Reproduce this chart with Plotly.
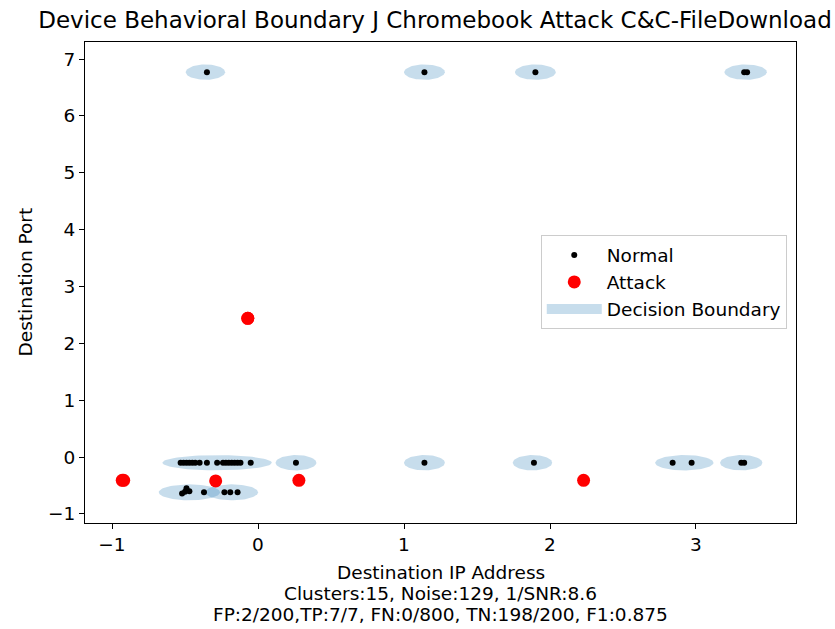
import numpy as np
import plotly.graph_objects as go

# Normal traffic samples (destination IP address, destination port), scaled units
normal_x = [-0.35, 1.14, 1.90, 3.33, 3.35,
            -0.53, -0.51, -0.49, -0.47, -0.45, -0.43, -0.40, -0.35, -0.28,
            -0.24, -0.22, -0.20, -0.18, -0.16, -0.14, -0.12, -0.05, 0.26,
            1.14, 1.89, 2.84, 2.97, 3.31, 3.33,
            -0.52, -0.50, -0.49, -0.47, -0.37, -0.23, -0.19, -0.14]
normal_y = [6.77, 6.77, 6.77, 6.77, 6.77,
            -0.10, -0.10, -0.10, -0.10, -0.10, -0.10, -0.10, -0.10, -0.10,
            -0.10, -0.10, -0.10, -0.10, -0.10, -0.10, -0.10, -0.10, -0.10,
            -0.10, -0.10, -0.10, -0.10, -0.10, -0.10,
            -0.64, -0.61, -0.55, -0.60, -0.62, -0.62, -0.62, -0.62]

# Attack samples
attack_x = [-0.93, -0.92, -0.29, 0.28, 2.23, -0.07, -0.07]
attack_y = [-0.41, -0.41, -0.42, -0.41, -0.41, 2.44, 2.44]

# Cluster decision boundaries: centre and full width/height of each ellipse
ell_cx = [-0.36, 1.14, 1.90, 3.34, -0.28, 0.26, 1.14, 1.88, 2.92, 3.31, -0.47, -0.18]
ell_cy = [6.77, 6.77, 6.77, 6.77, -0.10, -0.10, -0.10, -0.10, -0.10, -0.10, -0.62, -0.62]
ell_w = [0.27, 0.28, 0.28, 0.29, 0.75, 0.28, 0.28, 0.27, 0.40, 0.29, 0.42, 0.36]
ell_h = [0.27, 0.27, 0.27, 0.27, 0.27, 0.27, 0.27, 0.27, 0.27, 0.27, 0.28, 0.28]

title = "Device Behavioral Boundary J Chromebook Attack C&C-FileDownload"
xlabel_lines = ["Destination IP Address",
                "Clusters:15, Noise:129, 1/SNR:8.6",
                "FP:2/200,TP:7/7, FN:0/800, TN:198/200, F1:0.875"]
ylabel = "Destination Port"

FONT = "DejaVu Sans"
FS = 18.5
fill_col = "rgba(31,119,180,0.25)"

fig = go.Figure()

t = np.linspace(0, 2 * np.pi, 80)
for cx, cy, w, h in zip(ell_cx, ell_cy, ell_w, ell_h):
    fig.add_trace(go.Scatter(
        x=cx + w / 2 * np.cos(t), y=cy + h / 2 * np.sin(t),
        mode="lines", fill="toself", fillcolor=fill_col,
        line=dict(width=0, color=fill_col),
        showlegend=False, hoverinfo="skip"))

fig.add_trace(go.Scatter(
    x=normal_x, y=normal_y, mode="markers", name="Normal",
    marker=dict(color="black", size=6), legendgroup="normal", legendrank=1))
fig.add_trace(go.Scatter(
    x=attack_x, y=attack_y, mode="markers", name="Attack",
    marker=dict(color="red", size=13), legendgroup="attack", legendrank=2))
# legend swatch for the boundary ellipses
fig.add_trace(go.Scatter(
    x=[None], y=[None], mode="lines", name="Decision Boundary",
    line=dict(color="rgb(199,221,236)", width=14),
    legendgroup="boundary", legendrank=3))

L, R, T, B = 85, 39, 42, 106
W, H = 835, 629
ph = H - T - B
pw = W - L - R

axis_common = dict(showgrid=False, zeroline=False, showline=True, mirror=True,
                   linecolor="black", linewidth=1.2, ticks="outside", ticklen=5,
                   tickcolor="black", tickfont=dict(family=FONT, size=FS, color="black"))
fig.update_xaxes(range=[-1.185, 3.685], tickvals=[-1, 0, 1, 2, 3],
                 ticktext=["\u22121", "0", "1", "2", "3"], **axis_common)
fig.update_yaxes(range=[-1.16, 7.30], tickvals=list(range(-1, 8)),
                 ticktext=["\u22121"] + [str(v) for v in range(0, 8)], **axis_common)

annotations = []
for line, py in zip(xlabel_lines, [572, 593, 614]):
    annotations.append(dict(text=line, xref="paper", yref="paper",
                            x=0.5, y=(H - B - py) / ph, xanchor="center", yanchor="middle",
                            showarrow=False, font=dict(family=FONT, size=FS, color="black")))
annotations.append(dict(text=ylabel, xref="paper", yref="paper",
                        x=(25 - L) / pw, y=0.5, xanchor="center", yanchor="middle",
                        textangle=-90, showarrow=False,
                        font=dict(family=FONT, size=FS, color="black")))

fig.update_layout(
    width=W, height=H,
    margin=dict(l=L, r=R, t=T, b=B),
    paper_bgcolor="white", plot_bgcolor="white",
    title=dict(text=title, x=435 / W, xanchor="center",
               y=1 - 20 / H, yanchor="middle",
               font=dict(family=FONT, size=23, color="black")),
    legend=dict(x=0.987, y=0.598, xanchor="right", yanchor="top",
                bgcolor="white", bordercolor="#cccccc", borderwidth=1,
                font=dict(family=FONT, size=FS, color="black"),
                itemwidth=55, tracegroupgap=3, traceorder="normal"),
    annotations=annotations,
    showlegend=True,
)

fig.write_html("out.html")
